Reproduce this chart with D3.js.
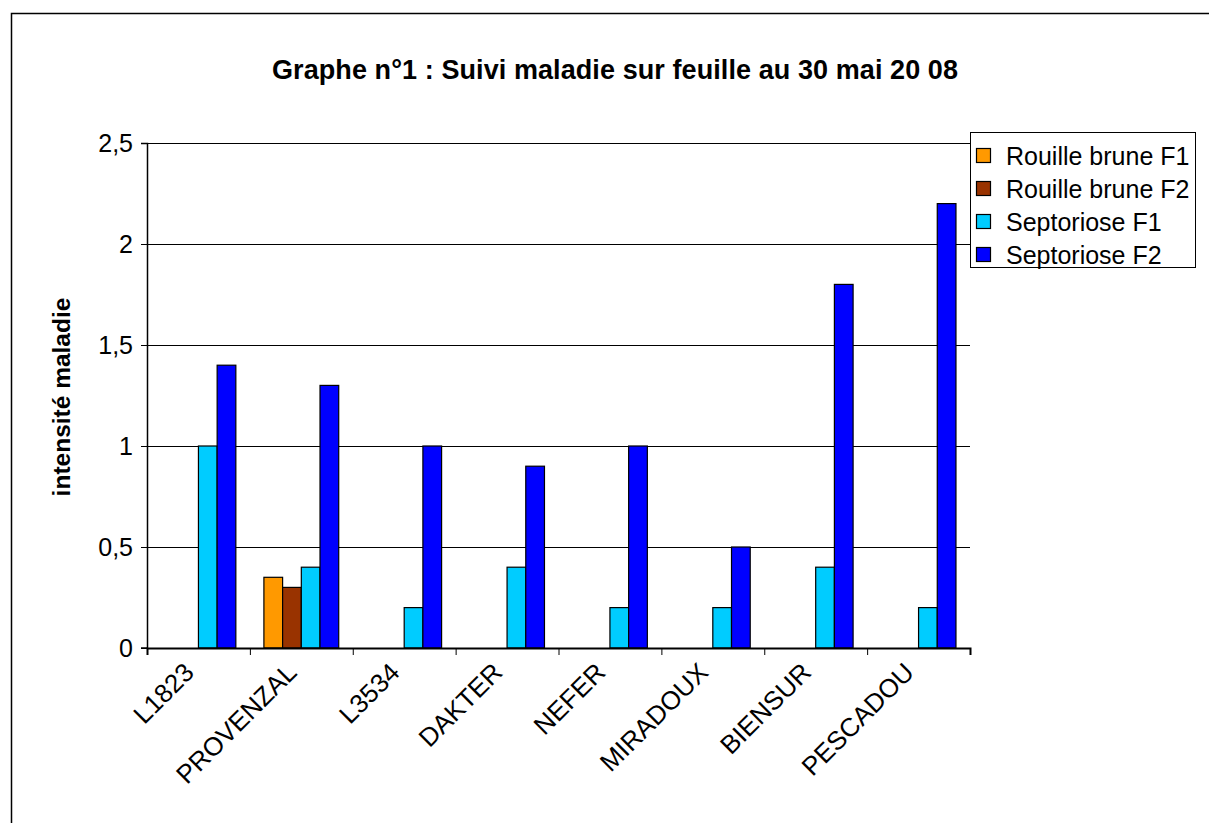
<!DOCTYPE html>
<html>
<head>
<meta charset="utf-8">
<script src="https://cdn.jsdelivr.net/npm/d3@7"></script>
<style>
  body { margin: 0; background: #fff; }
  svg { display: block; font-family: Arial, "Liberation Sans", sans-serif; }
</style>
</head>
<body>
<svg id="chart" width="1209" height="823"></svg>
<script>
// data
const categories = ['L1823', 'PROVENZAL', 'L3534', 'DAKTER', 'NEFER', 'MIRADOUX', 'BIENSUR', 'PESCADOU'];
const seriesNames = ['Rouille brune F1', 'Rouille brune F2', 'Septoriose F1', 'Septoriose F2'];
const rouilleF1 = [0, 0.35, 0, 0, 0, 0, 0, 0];
const rouilleF2 = [0, 0.3, 0, 0, 0, 0, 0, 0];
const septorioseF1 = [1, 0.4, 0.2, 0.4, 0.2, 0.2, 0.4, 0.2];
const septorioseF2 = [1.4, 1.3, 1, 0.9, 1, 0.5, 1.8, 2.2];
const yTicks = [0, 0.5, 1, 1.5, 2, 2.5];
const colors = ['#FF9900', '#993300', '#00CCFF', '#0000FF'];

const seriesValues = [rouilleF1, rouilleF2, septorioseF1, septorioseF2];

const margin = { top: 143, left: 147 };
const width = 823;
const height = 505;

const svg = d3.select('#chart');

// outer chart border
svg.append('rect')
    .attr('x', 11.5).attr('y', 13.5)
    .attr('width', 1400).attr('height', 1000)
    .attr('fill', 'none')
    .attr('stroke', '#000')
    .attr('stroke-width', 1.5);

svg.append('text')
    .attr('x', 615)
    .attr('y', 79)
    .attr('text-anchor', 'middle')
    .attr('font-size', 27)
    .attr('font-weight', 'bold')
    .attr('textLength', 686)
    .text('Graphe n°1 : Suivi maladie sur feuille au 30 mai 20 08');

const g = svg.append('g')
    .attr('transform', 'translate(' + margin.left + ',' + margin.top + ')');

const x = d3.scaleBand()
    .domain(categories)
    .range([0, width])
    .paddingInner(0)
    .paddingOuter(0);

const bandInner = x.bandwidth() / 5.5;  // gap width 150%
const xs = d3.scaleBand()
    .domain(seriesNames)
    .range([0, bandInner * 4]);

const y = d3.scaleLinear()
    .domain([0, 2.5])
    .range([height, 0]);

// gridlines
g.append('g')
    .selectAll('line')
    .data(yTicks.filter(d => d > 0))
    .enter()
    .append('line')
    .attr('x1', 0).attr('x2', width)
    .attr('y1', d => Math.round(y(d)) + 0.5)
    .attr('y2', d => Math.round(y(d)) + 0.5)
    .attr('stroke', '#000')
    .attr('stroke-width', 1);

// bars
const groups = g.selectAll('.grp')
    .data(categories)
    .enter()
    .append('g')
    .attr('class', 'grp')
    .attr('transform', d => 'translate(' + (x(d) + bandInner * 0.75) + ',0)');

groups.selectAll('rect')
    .data((c, i) => seriesNames.map((s, j) => ({ s: s, j: j, v: seriesValues[j][i] })))
    .enter()
    .append('rect')
    .attr('x', d => xs(d.s))
    .attr('y', d => y(d.v))
    .attr('width', xs.bandwidth())
    .attr('height', d => height - y(d.v))
    .attr('fill', d => colors[d.j])
    .attr('stroke', '#000')
    .attr('stroke-width', 1.2);

// y axis
const yAxis = d3.axisLeft(y)
    .tickValues(yTicks)
    .tickSize(6)
    .tickPadding(8)
    .tickFormat(d => String(d).replace('.', ','));

const ya = g.append('g').call(yAxis);
ya.select('.domain').attr('stroke', '#000').attr('stroke-width', 1.5).attr('d', 'M-6,0.5H0.5V' + height + 'H-6');
ya.selectAll('text')
    .attr('font-size', 25)
    .attr('fill', '#000')
    .attr('dy', '0.35em')
    .attr('font-family', 'Arial, "Liberation Sans", sans-serif');

// x axis
const xAxis = d3.axisBottom(d3.scaleLinear().domain([0, categories.length]).range([0, width]))
    .tickValues(d3.range(categories.length + 1))
    .tickSize(7)
    .tickFormat('');

const xa = g.append('g')
    .attr('transform', 'translate(0,' + height + ')')
    .call(xAxis);
xa.select('.domain').attr('stroke-width', 2);

g.append('g')
    .selectAll('text')
    .data(categories)
    .enter()
    .append('text')
    .attr('transform', d => 'translate(' + (x(d) + x.bandwidth() / 2 - 3) + ',' + (height + 26) + ') rotate(-45)')
    .attr('text-anchor', 'end')
    .attr('font-size', 26)
    .text(d => d);

svg.append('text')
    .attr('transform', 'translate(70,397) rotate(-90)')
    .attr('text-anchor', 'middle')
    .attr('font-size', 24.5)
    .attr('font-weight', 'bold')
    .text('intensité maladie');

// legend
const legend = svg.append('g').attr('transform', 'translate(970,132)');
legend.append('rect')
    .attr('x', 0.5).attr('y', 0.5)
    .attr('width', 225).attr('height', 135)
    .attr('fill', '#fff')
    .attr('stroke', '#000')
    .attr('stroke-width', 1);

const items = legend.selectAll('.item')
    .data(seriesNames)
    .enter()
    .append('g')
    .attr('transform', (d, i) => 'translate(0,' + (24 + i * 33) + ')');

items.append('rect')
    .attr('x', 6.5).attr('y', -7.5)
    .attr('width', 14).attr('height', 14)
    .attr('fill', (d, i) => colors[i])
    .attr('stroke', '#000')
    .attr('stroke-width', 1.2);

items.append('text')
    .attr('x', 36)
    .attr('y', 9)
    .attr('font-size', 25)
    .text(d => d);
</script>
</body>
</html>
